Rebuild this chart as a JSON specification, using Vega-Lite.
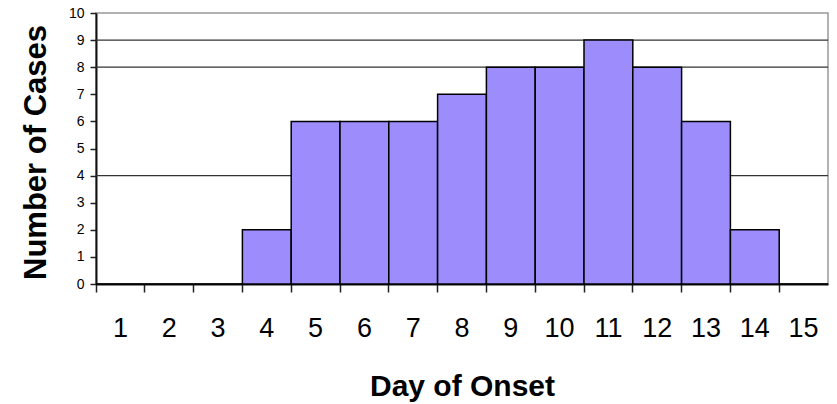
{
  "$schema": "https://vega.github.io/schema/vega-lite/v6.json",
  "width": 732,
  "height": 271,
  "autosize": {"type": "none"},
  "padding": {"left": 96, "top": 13, "right": 9, "bottom": 120},
  "background": "white",
  "config": {
    "font": "Liberation Sans",
    "view": {"stroke": "#999999", "strokeWidth": 1.5},
    "axisY": {"labelOverlap": false}
  },
  "datasets": {
    "cases": [
      {"day": 1, "cases": 0}, {"day": 2, "cases": 0}, {"day": 3, "cases": 0},
      {"day": 4, "cases": 2}, {"day": 5, "cases": 6}, {"day": 6, "cases": 6},
      {"day": 7, "cases": 6}, {"day": 8, "cases": 7}, {"day": 9, "cases": 8},
      {"day": 10, "cases": 8}, {"day": 11, "cases": 9}, {"day": 12, "cases": 8},
      {"day": 13, "cases": 6}, {"day": 14, "cases": 2}, {"day": 15, "cases": 0}
    ],
    "grid": [{"v": 4}, {"v": 8}, {"v": 9}]
  },
  "layer": [
    {
      "data": {"name": "grid"},
      "mark": {"type": "rule", "color": "#333333", "strokeWidth": 1.2},
      "encoding": {
        "y": {
          "field": "v", "type": "quantitative",
          "scale": {"domain": [0, 10], "nice": false},
          "axis": {
            "title": "Number of Cases",
            "values": [0, 1, 2, 3, 4, 5, 6, 7, 8, 9, 10],
            "labelOverlap": false,
            "grid": false,
            "labelFontSize": 14,
            "labelColor": "black",
            "labelPadding": 6,
            "tickSize": 6,
            "tickColor": "#222222",
            "tickWidth": 1.5,
            "domainColor": "#111111",
            "domainWidth": 2,
            "titleFontSize": 31,
            "titleFontWeight": "bold",
            "titleColor": "black",
            "titleBaseline": "alphabetic",
            "titleX": -51,
            "titleY": 139
          }
        }
      }
    },
    {
      "data": {"name": "cases"},
      "mark": {"type": "bar", "color": "#9d8dfc", "stroke": "black", "strokeWidth": 1.5},
      "encoding": {
        "x": {
          "field": "day", "type": "ordinal",
          "scale": {"paddingInner": 0, "paddingOuter": 0},
          "axis": {
            "title": "Day of Onset",
            "labelAngle": 0,
            "bandPosition": 0,
            "labelFontSize": 27,
            "labelColor": "black",
            "labelPadding": 23,
            "tickSize": 8,
            "tickColor": "#222222",
            "tickWidth": 1.5,
            "domainColor": "#111111",
            "domainWidth": 2,
            "titleFontSize": 30,
            "titleFontWeight": "bold",
            "titleColor": "black",
            "titleBaseline": "alphabetic",
            "titleY": 111
          }
        },
        "y": {
          "field": "cases", "type": "quantitative",
          "scale": {"domain": [0, 10], "nice": false},
          "axis": {
            "title": "Number of Cases",
            "values": [0, 1, 2, 3, 4, 5, 6, 7, 8, 9, 10],
            "labelOverlap": false,
            "grid": false,
            "labelFontSize": 14,
            "labelColor": "black",
            "labelPadding": 6,
            "tickSize": 6,
            "tickColor": "#222222",
            "tickWidth": 1.5,
            "domainColor": "#111111",
            "domainWidth": 2,
            "titleFontSize": 31,
            "titleFontWeight": "bold",
            "titleColor": "black",
            "titleBaseline": "alphabetic",
            "titleX": -51,
            "titleY": 139
          }
        }
      }
    }
  ]
}
